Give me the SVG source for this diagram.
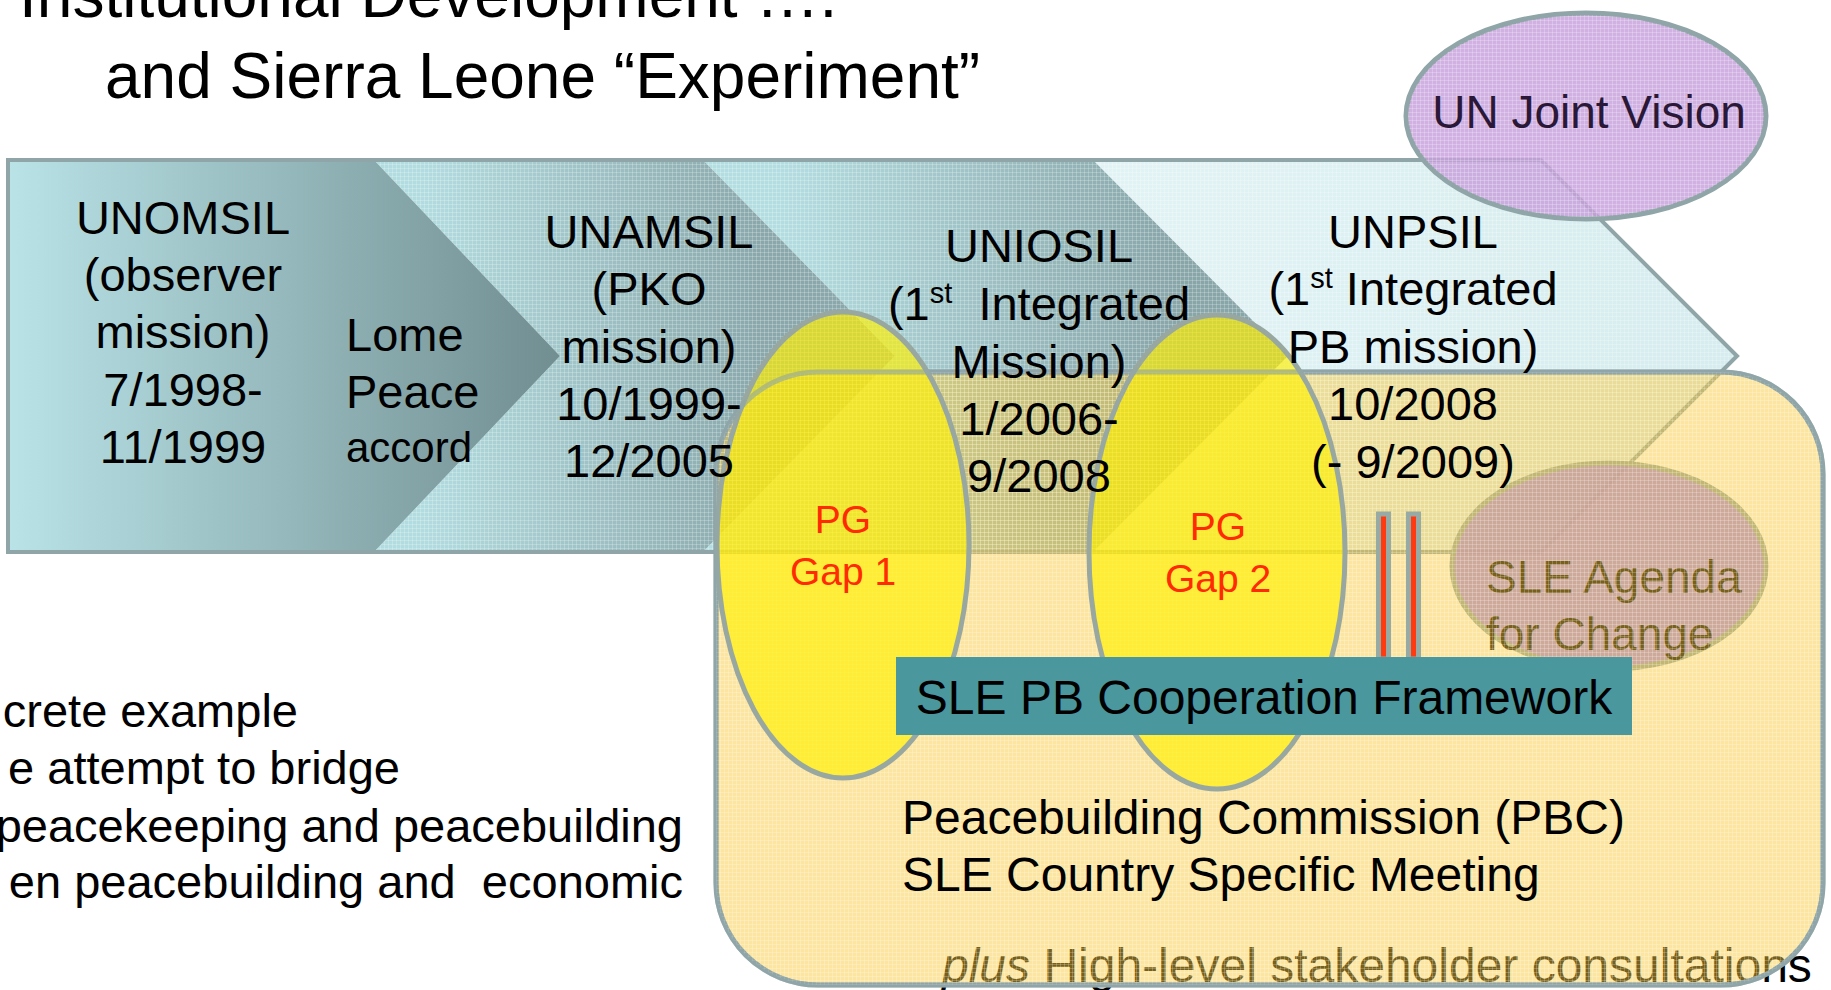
<svg xmlns="http://www.w3.org/2000/svg" width="1831" height="990" viewBox="0 0 1831 990">
<defs>
<linearGradient id="g1" gradientUnits="userSpaceOnUse" x1="8" y1="0" x2="560" y2="0"><stop offset="0" stop-color="#b9e3e7"/><stop offset="1" stop-color="#718e91"/></linearGradient>
<linearGradient id="g2" gradientUnits="userSpaceOnUse" x1="420" y1="0" x2="760" y2="0"><stop offset="0" stop-color="#b2dde0"/><stop offset="1" stop-color="#8aa8ab"/></linearGradient>
<linearGradient id="g3" gradientUnits="userSpaceOnUse" x1="780" y1="0" x2="1180" y2="0"><stop offset="0" stop-color="#b3dee1"/><stop offset="1" stop-color="#88a5a8"/></linearGradient>
<linearGradient id="g4" gradientUnits="userSpaceOnUse" x1="1100" y1="0" x2="1737" y2="0"><stop offset="0" stop-color="#e2f3f5"/><stop offset="1" stop-color="#d6ecee"/></linearGradient>
<pattern id="grid" width="4" height="4" patternUnits="userSpaceOnUse"><path d="M0,0.5H4M0.5,0V4" stroke="#ffffff" stroke-opacity="0.22" stroke-width="1"/></pattern>
<style>
.t{font-family:"Liberation Sans",Arial,Helvetica,sans-serif}
.m{font-size:47px;text-anchor:middle;fill:#000}
.l{font-size:47px;fill:#000}
.e{font-size:47px;text-anchor:end;fill:#000}
.pg{font-size:39px;text-anchor:middle;fill:#ff2a00}
.edge{fill:none;stroke:#8fa5a7;stroke-width:4}
.sup{font-size:29px}
.gap{fill:#fff000;fill-opacity:0.66;stroke:#98a8a0;stroke-width:5}
</style>
</defs>
<rect width="1831" height="990" fill="#ffffff"/>

<g id="title" class="t">
<text x="19" y="17" class="l" style="font-size:64px">Institutional Development ….</text>
<text x="105" y="98" class="l" style="font-size:64px">and Sierra Leone “Experiment”</text>
</g>

<g id="left-text" class="t">
<text x="298" y="727" class="e">crete example</text>
<text x="400" y="784" class="e">e attempt to bridge</text>
<text x="683" y="842" class="e">peacekeeping and peacebuilding</text>
<text x="683" y="898" class="e" xml:space="preserve">en peacebuilding and  economic</text>
</g>

<g id="band">
<path id="unpsil-shape" d="M1093,160 H1541 L1737,356 L1541,552 H1093 L1288,356 Z" fill="url(#g4)"/>
<path id="uniosil-shape" d="M703,160 H1093 L1288,356 L1093,552 H703 L895,356 Z" fill="url(#g3)"/>
<path id="unamsil-shape" d="M374,160 H703 L895,356 L703,552 H374 L560,356 Z" fill="url(#g2)"/>
<path d="M374,160 H1541 L1737,356 L1541,552 H374 Z" fill="url(#grid)"/>
<path id="unomsil-shape" d="M8,160 H374 L560,356 L374,552 H8 Z" fill="url(#g1)"/>
<path class="edge" d="M8,160 H1541 L1737,356 L1541,552 H8 Z"/>
</g>

<g id="un-joint-vision">
<ellipse cx="1586" cy="116" rx="180" ry="103" fill="#c7a0dc" fill-opacity="0.82" stroke="#8fa5a7" stroke-width="5"/>
<ellipse cx="1586" cy="116" rx="178" ry="101" fill="url(#grid)"/>
<text x="1589" y="128" class="t" style="font-size:46px;text-anchor:middle;fill:#2a1838">UN Joint Vision</text>
</g>

<g id="sle-agenda">
<ellipse cx="1609" cy="566" rx="157" ry="103" fill="#9a80ee" fill-opacity="0.9" stroke="#8fa5a7" stroke-width="5"/>
<text x="1486" y="593" class="t l" style="font-size:46px">SLE Agenda</text>
<text x="1486" y="650" class="t l" style="font-size:46px">for Change</text>
</g>

<g id="consultations">
<text x="942" y="982" class="t l" style="font-size:48px"><tspan font-style="italic">plus</tspan> High-level stakeholder consultations</text>
</g>

<g id="pbc-area">
<rect x="716" y="372" width="1107" height="613" rx="102" ry="102" fill="#f8c838" fill-opacity="0.48" stroke="#8fa5a7" stroke-width="5"/>
<rect x="716" y="372" width="1107" height="613" rx="102" ry="102" fill="url(#grid)"/>
</g>

<g id="pg-gap-1-shape">
<ellipse class="gap" cx="843" cy="545" rx="126" ry="233"/>
</g>
<g id="pg-gap-2-shape">
<ellipse class="gap" cx="1217" cy="552" rx="128" ry="237"/>
</g>

<g id="pbc-area-edge">
<rect x="716" y="372" width="1107" height="613" rx="102" ry="102" fill="none" stroke="#8fa5a7" stroke-width="5" stroke-opacity="0.55"/>
</g>

<g id="connectors">
<rect x="1378.5" y="514" width="10" height="145" fill="#ff3a10" stroke="#98aaa4" stroke-width="5"/>
<rect x="1408.5" y="514" width="10" height="145" fill="#ff3a10" stroke="#98aaa4" stroke-width="5"/>
</g>

<g id="framework">
<rect x="896" y="657" width="736" height="78" fill="#4a979e"/>
<text x="1264" y="714" class="t m" style="font-size:48px">SLE PB Cooperation Framework</text>
</g>

<g id="unomsil" class="t">
<text x="183" y="234" class="m">UNOMSIL</text>
<text x="183" y="291" class="m">(observer</text>
<text x="183" y="348" class="m">mission)</text>
<text x="183" y="406" class="m">7/1998-</text>
<text x="183" y="463" class="m">11/1999</text>
</g>

<g id="lome" class="t">
<text x="346" y="351" class="l">Lome</text>
<text x="346" y="408" class="l">Peace</text>
<text x="346" y="462" class="l" style="font-size:42px">accord</text>
</g>

<g id="unamsil" class="t">
<text x="649" y="248" class="m">UNAMSIL</text>
<text x="649" y="305" class="m">(PKO</text>
<text x="649" y="363" class="m">mission)</text>
<text x="649" y="420" class="m">10/1999-</text>
<text x="649" y="477" class="m">12/2005</text>
</g>

<g id="uniosil" class="t">
<text x="1039" y="262" class="m">UNIOSIL</text>
<text x="1039" y="320" class="m">(1<tspan class="sup" dy="-17">st</tspan><tspan dy="17">&#160; Integrated</tspan></text>
<text x="1039" y="378" class="m">Mission)</text>
<text x="1039" y="435" class="m">1/2006-</text>
<text x="1039" y="492" class="m">9/2008</text>
</g>

<g id="unpsil" class="t">
<text x="1413" y="248" class="m">UNPSIL</text>
<text x="1413" y="305" class="m">(1<tspan class="sup" dy="-17">st</tspan><tspan dy="17"> Integrated</tspan></text>
<text x="1413" y="363" class="m">PB mission)</text>
<text x="1413" y="420" class="m">10/2008</text>
<text x="1413" y="478" class="m">(- 9/2009)</text>
</g>

<g id="pg-gap-1" class="t">
<text x="843" y="533" class="pg">PG</text>
<text x="843" y="585" class="pg">Gap 1</text>
</g>
<g id="pg-gap-2" class="t">
<text x="1218" y="540" class="pg">PG</text>
<text x="1218" y="592" class="pg">Gap 2</text>
</g>

<g id="pbc" class="t">
<text x="902" y="834" class="l" style="font-size:48px">Peacebuilding Commission (PBC)</text>
<text x="902" y="891" class="l" style="font-size:48px">SLE Country Specific Meeting</text>
</g>
</svg>
